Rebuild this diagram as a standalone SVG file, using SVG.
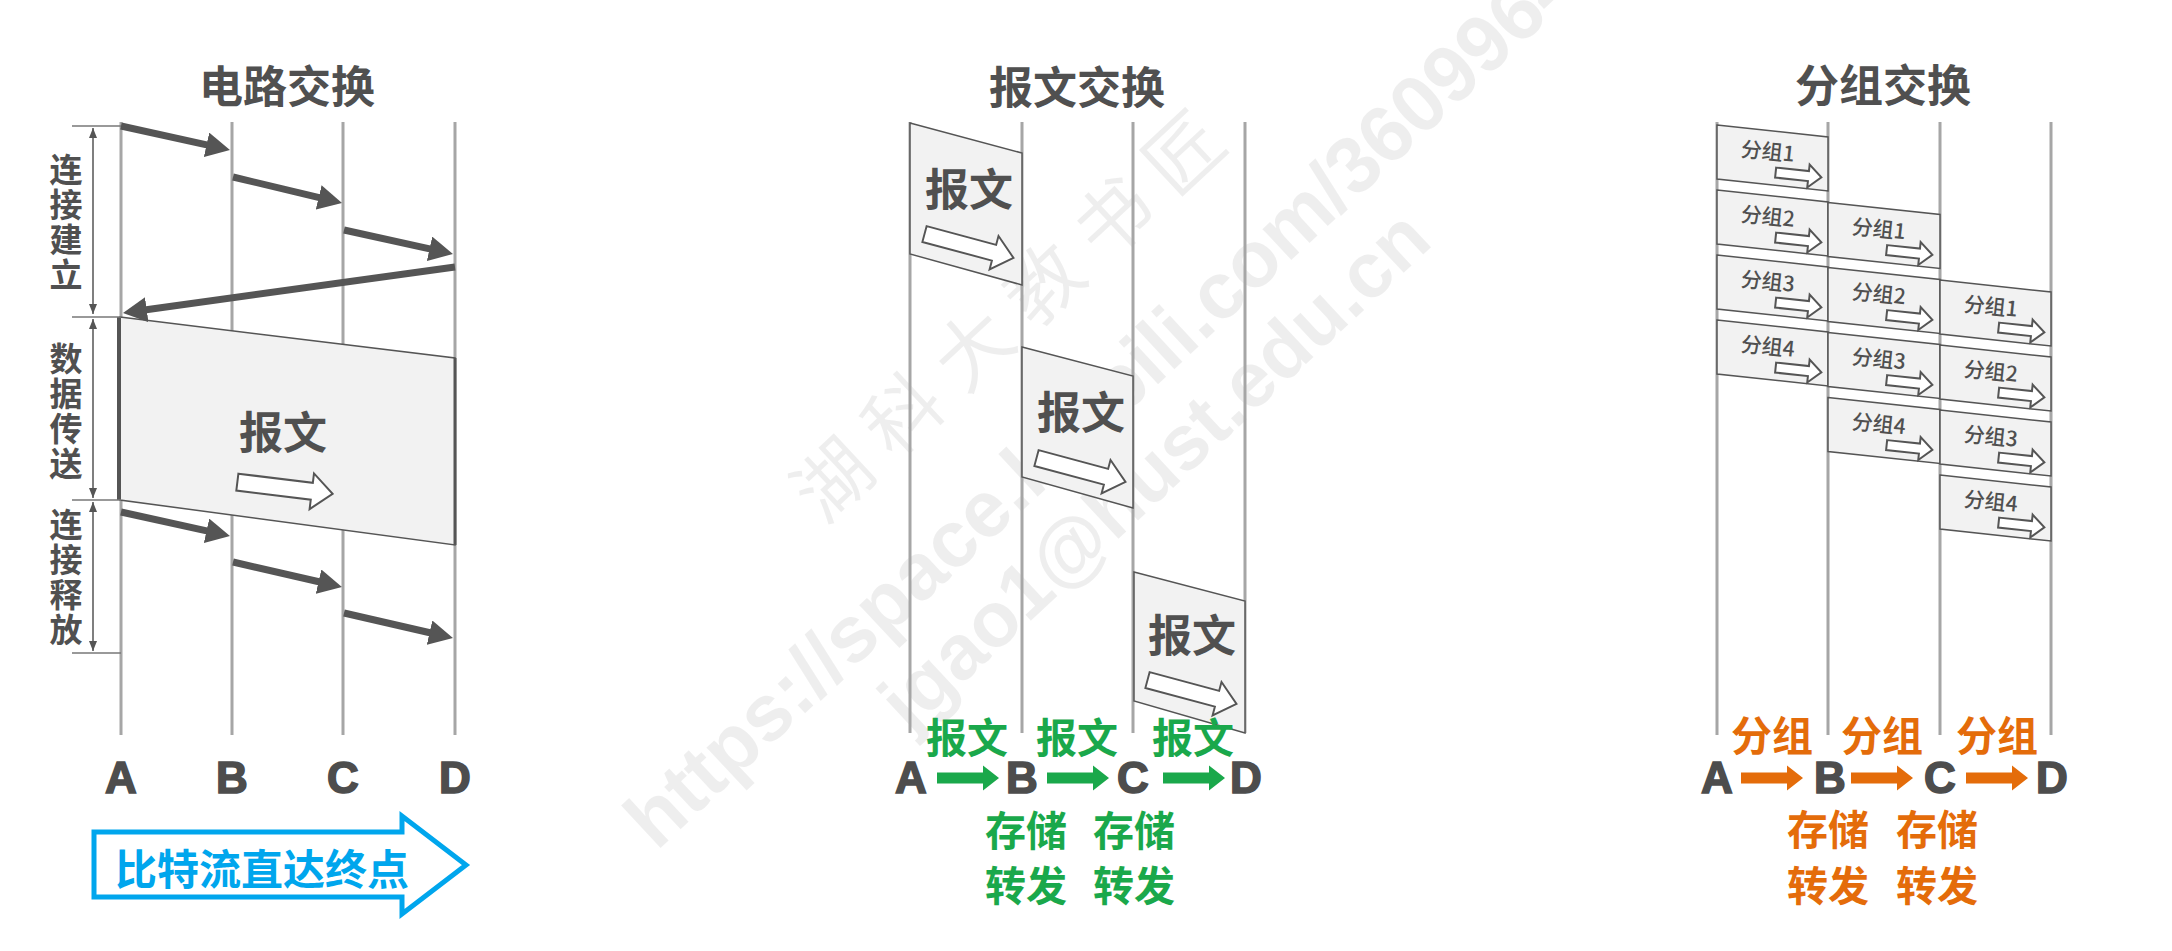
<svg xmlns="http://www.w3.org/2000/svg" width="2172" height="951" viewBox="0 0 2172 951">
<defs>
<style>
.cjk{font-family:"Noto Sans CJK SC","Liberation Sans",sans-serif;font-weight:700;text-anchor:middle;dominant-baseline:central}
.title{font-size:44px;fill:#505050}
.big{font-size:44px;fill:#505050}
.vtxt{font-family:"Noto Sans CJK SC","Liberation Sans",sans-serif;font-weight:700;font-size:33px;fill:#505050;text-anchor:middle;writing-mode:vertical-rl;letter-spacing:2px}
.pk{font-family:"Noto Sans CJK SC","Liberation Sans",sans-serif;font-weight:500;font-size:21px;fill:#505050;text-anchor:middle;dominant-baseline:central}
.lbl{font-family:"Liberation Sans",Arial,sans-serif;font-weight:700;font-size:44px;fill:#4d4d4d;stroke:#4d4d4d;stroke-width:1.6;text-anchor:middle}
.gtxt{font-size:41px;fill:#1aa84b}
.otxt{font-size:41px;fill:#e46c0a}
.vl{stroke:#a6a6a6;stroke-width:3;fill:none}
.blk{fill:#f2f2f2;stroke:#555;stroke-width:1.5}
.dark{stroke:#555;stroke-width:7;fill:none;marker-end:url(#ah)}
.hol{fill:#fff;stroke:#555;stroke-width:2}
.tick{stroke:#777;stroke-width:1.5}
.dim{stroke:#555;stroke-width:1.5;marker-start:url(#sa);marker-end:url(#sa)}
.wm{fill:#000;fill-opacity:0.065}
</style>
<marker id="ah" viewBox="0 0 24 25" refX="6" refY="12.5" markerWidth="24" markerHeight="25" markerUnits="userSpaceOnUse" orient="auto">
<path d="M0,0 L24,12.5 L0,25 Z" fill="#555"/>
</marker>
<marker id="sa" viewBox="0 0 10 8" refX="10" refY="4" markerWidth="10" markerHeight="8" markerUnits="userSpaceOnUse" orient="auto-start-reverse">
<path d="M0,0 L10,4 L0,8 Z" fill="#555"/>
</marker>
<path id="hb" d="M-48,-8.5 L27,-8.5 L27,-18 L48,0 L27,18 L27,8.5 L-48,8.5 Z"/>
<path id="hs" d="M-23,-5 L10,-5 L10,-11.5 L23,0 L10,11.5 L10,5 L-23,5 Z"/>
<path id="fa" d="M0,-5.5 H46 V-12.5 L62,0 L46,12.5 V5.5 H0 Z"/>
</defs>
<rect width="2172" height="951" fill="#fff"/>

<!-- ===== Watermark ===== -->
<g id="watermark" class="wm">
<text transform="translate(829,476) rotate(-43)" x="-38" y="0" font-family="Noto Sans CJK SC, sans-serif" font-size="76" letter-spacing="20" dominant-baseline="central">湖科大教书匠</text>
<text transform="translate(655,815) rotate(-43)" x="-24" y="28" font-family="Liberation Sans, Arial, sans-serif" font-weight="700" font-size="80">https://space.bilibili.com/360996402</text>
<text transform="translate(905,712) rotate(-43)" x="-11" y="19" font-family="Liberation Sans, Arial, sans-serif" font-weight="700" font-size="78">jgao1@hust.edu.cn</text>
</g>

<!-- ===== Circuit switching ===== -->
<g id="circuit-title"><text class="cjk title" x="287" y="84">电路交换</text></g>
<g id="circuit-lines">
<line class="vl" x1="121" y1="122" x2="121" y2="735"/>
<line class="vl" x1="232" y1="122" x2="232" y2="735"/>
<line class="vl" x1="343" y1="122" x2="343" y2="735"/>
<line class="vl" x1="455" y1="122" x2="455" y2="735"/>
</g>
<g id="circuit-data">
<polygon class="blk" points="120,317 455,358 455,545 120,500"/>
<line x1="119" y1="317" x2="119" y2="500" stroke="#555" stroke-width="4"/>
<line x1="455" y1="358" x2="455" y2="545" stroke="#555" stroke-width="3"/>
<text class="cjk big" x="283" y="430">报文</text>
<use href="#hb" class="hol" transform="translate(285,488) rotate(7)"/>
</g>
<g id="circuit-brackets">
<line class="tick" x1="72" y1="126" x2="121" y2="126"/>
<line class="tick" x1="72" y1="317" x2="121" y2="317"/>
<line class="tick" x1="72" y1="500" x2="121" y2="500"/>
<line class="tick" x1="72" y1="653" x2="121" y2="653"/>
<line class="dim" x1="93" y1="128" x2="93" y2="314"/>
<line class="dim" x1="93" y1="319" x2="93" y2="498"/>
<line class="dim" x1="93" y1="502" x2="93" y2="651"/>
</g>
<g id="label-setup"><text class="vtxt" x="66" y="223">连接建立</text></g>
<g id="label-transfer"><text class="vtxt" x="66" y="412">数据传送</text></g>
<g id="label-release"><text class="vtxt" x="66" y="578">连接释放</text></g>
<g id="circuit-nodes">
<text class="lbl" x="121" y="793">A</text>
<text class="lbl" x="232" y="793">B</text>
<text class="lbl" x="343" y="793">C</text>
<text class="lbl" x="455" y="793">D</text>
</g>
<g id="bitstream">
<polygon points="94,832 402,832 402,816 466,865 402,914 402,897 94,897" fill="#fff" stroke="#00a6ed" stroke-width="5"/>
<text class="cjk" x="262" y="866" font-size="42" fill="#00a6ed">比特流直达终点</text>
</g>

<!-- ===== Message switching ===== -->
<g id="message-title"><text class="cjk title" x="1077" y="85">报文交换</text></g>
<g id="message-lines">
<line class="vl" x1="910" y1="122" x2="910" y2="733"/>
<line class="vl" x1="1022" y1="122" x2="1022" y2="733"/>
<line class="vl" x1="1133" y1="122" x2="1133" y2="733"/>
<line class="vl" x1="1245" y1="122" x2="1245" y2="733"/>
</g>
<g id="msg-1">
<polygon class="blk" points="910,123 1022,153 1022,285 910,254"/>
<text class="cjk big" x="969" y="187">报文</text>
<use href="#hb" class="hol" transform="translate(969,246) rotate(15) scale(0.96)"/>
</g>
<g id="msg-2">
<polygon class="blk" points="1022,347 1133,376 1133,508 1022,477"/>
<text class="cjk big" x="1081" y="410">报文</text>
<use href="#hb" class="hol" transform="translate(1081,470) rotate(15) scale(0.96)"/>
</g>
<g id="msg-3">
<polygon class="blk" points="1134,572 1245,601 1245,733 1134,701"/>
<text class="cjk big" x="1192" y="633">报文</text>
<use href="#hb" class="hol" transform="translate(1192,692) rotate(15) scale(0.96)"/>
</g>
<g id="message-nodes">
<text class="lbl" x="911" y="793">A</text>
<text class="lbl" x="1022" y="793">B</text>
<text class="lbl" x="1133" y="793">C</text>
<text class="lbl" x="1246" y="793">D</text>
</g>
<g id="message-notes">
<text class="cjk gtxt" x="967" y="735">报文</text>
<text class="cjk gtxt" x="1077" y="735">报文</text>
<text class="cjk gtxt" x="1193" y="735">报文</text>
<text class="cjk gtxt" x="1026" y="828">存储</text>
<text class="cjk gtxt" x="1026" y="883">转发</text>
<text class="cjk gtxt" x="1134" y="828">存储</text>
<text class="cjk gtxt" x="1134" y="883">转发</text>
</g>

<!-- ===== Packet switching ===== -->
<g id="packet-title"><text class="cjk title" x="1883" y="83">分组交换</text></g>
<g id="packet-lines">
<line class="vl" x1="1717" y1="122" x2="1717" y2="735"/>
<line class="vl" x1="1828" y1="122" x2="1828" y2="735"/>
<line class="vl" x1="1940" y1="122" x2="1940" y2="735"/>
<line class="vl" x1="2051" y1="122" x2="2051" y2="735"/>
</g>
<g id="pkt-A1"><polygon class="blk" points="1717,125 1828,137 1828,191 1717,179"/><text class="pk" transform="translate(1768,150) rotate(6)">分组1</text><use href="#hs" class="hol" transform="translate(1798.5,175) rotate(6)"/></g>
<g id="pkt-A2"><polygon class="blk" points="1717,190 1828,202 1828,256 1717,244"/><text class="pk" transform="translate(1768,215) rotate(6)">分组2</text><use href="#hs" class="hol" transform="translate(1798.5,240) rotate(6)"/></g>
<g id="pkt-A3"><polygon class="blk" points="1717,255 1828,267 1828,321 1717,309"/><text class="pk" transform="translate(1768,280) rotate(6)">分组3</text><use href="#hs" class="hol" transform="translate(1798.5,305) rotate(6)"/></g>
<g id="pkt-A4"><polygon class="blk" points="1717,320 1828,332 1828,386 1717,374"/><text class="pk" transform="translate(1768,345) rotate(6)">分组4</text><use href="#hs" class="hol" transform="translate(1798.5,370) rotate(6)"/></g>
<g id="pkt-B1"><polygon class="blk" points="1828,202.5 1940,214.5 1940,268.5 1828,256.5"/><text class="pk" transform="translate(1879,227.5) rotate(6)">分组1</text><use href="#hs" class="hol" transform="translate(1909.5,252.5) rotate(6)"/></g>
<g id="pkt-B2"><polygon class="blk" points="1828,267.5 1940,279.5 1940,333.5 1828,321.5"/><text class="pk" transform="translate(1879,292.5) rotate(6)">分组2</text><use href="#hs" class="hol" transform="translate(1909.5,317.5) rotate(6)"/></g>
<g id="pkt-B3"><polygon class="blk" points="1828,332.5 1940,344.5 1940,398.5 1828,386.5"/><text class="pk" transform="translate(1879,357.5) rotate(6)">分组3</text><use href="#hs" class="hol" transform="translate(1909.5,382.5) rotate(6)"/></g>
<g id="pkt-B4"><polygon class="blk" points="1828,397.5 1940,409.5 1940,463.5 1828,451.5"/><text class="pk" transform="translate(1879,422.5) rotate(6)">分组4</text><use href="#hs" class="hol" transform="translate(1909.5,447.5) rotate(6)"/></g>
<g id="pkt-C1"><polygon class="blk" points="1940,280 2051,292 2051,346 1940,334"/><text class="pk" transform="translate(1991,305) rotate(6)">分组1</text><use href="#hs" class="hol" transform="translate(2021.5,330) rotate(6)"/></g>
<g id="pkt-C2"><polygon class="blk" points="1940,345 2051,357 2051,411 1940,399"/><text class="pk" transform="translate(1991,370) rotate(6)">分组2</text><use href="#hs" class="hol" transform="translate(2021.5,395) rotate(6)"/></g>
<g id="pkt-C3"><polygon class="blk" points="1940,410 2051,422 2051,476 1940,464"/><text class="pk" transform="translate(1991,435) rotate(6)">分组3</text><use href="#hs" class="hol" transform="translate(2021.5,460) rotate(6)"/></g>
<g id="pkt-C4"><polygon class="blk" points="1940,475 2051,487 2051,541 1940,529"/><text class="pk" transform="translate(1991,500) rotate(6)">分组4</text><use href="#hs" class="hol" transform="translate(2021.5,525) rotate(6)"/></g>
<g id="packet-nodes">
<text class="lbl" x="1717" y="793">A</text>
<text class="lbl" x="1830" y="793">B</text>
<text class="lbl" x="1940" y="793">C</text>
<text class="lbl" x="2052" y="793">D</text>
</g>
<g id="packet-notes">
<text class="cjk otxt" x="1772" y="733">分组</text>
<text class="cjk otxt" x="1882" y="733">分组</text>
<text class="cjk otxt" x="1997" y="733">分组</text>
<text class="cjk otxt" x="1828" y="827">存储</text>
<text class="cjk otxt" x="1828" y="883">转发</text>
<text class="cjk otxt" x="1937" y="827">存储</text>
<text class="cjk otxt" x="1937" y="883">转发</text>
</g>

<!-- ===== Connectors ===== -->
<g id="connectors">
<line class="dark" x1="121" y1="126" x2="212.4" y2="146.1"/>
<line class="dark" x1="233" y1="177" x2="324.5" y2="198.8"/>
<line class="dark" x1="344" y1="230" x2="435.4" y2="250.1"/>
<line class="dark" x1="455" y1="267" x2="140.8" y2="310.5"/>
<line class="dark" x1="121" y1="512" x2="212.4" y2="532.1"/>
<line class="dark" x1="233" y1="562" x2="324.4" y2="583"/>
<line class="dark" x1="344" y1="613" x2="435.4" y2="634"/>
<use href="#fa" fill="#1aa84b" transform="translate(937,778)"/>
<use href="#fa" fill="#1aa84b" transform="translate(1047,778)"/>
<use href="#fa" fill="#1aa84b" transform="translate(1163,778)"/>
<use href="#fa" fill="#e46c0a" transform="translate(1741,778)"/>
<use href="#fa" fill="#e46c0a" transform="translate(1851,778)"/>
<use href="#fa" fill="#e46c0a" transform="translate(1966,778)"/>
</g>
</svg>
